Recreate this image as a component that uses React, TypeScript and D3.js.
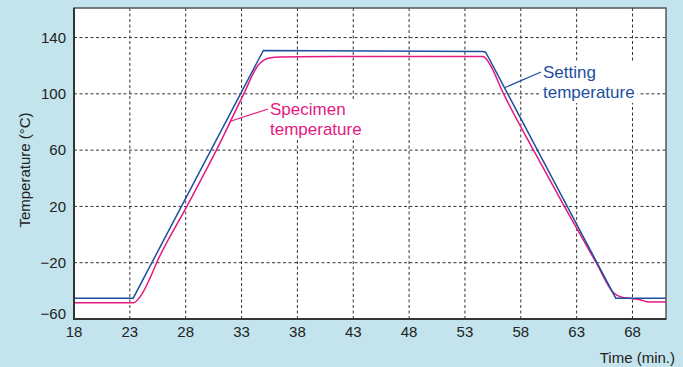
import React, { useEffect, useRef } from 'react'
import * as d3 from 'd3'

const timeTicks = [18, 23, 28, 33, 38, 43, 48, 53, 58, 63, 68]
const tempTicks = [-60, -20, 20, 60, 100, 140]

const settingTime = [18, 23.3, 34.95, 54.6, 54.85, 55.1, 66.5, 71]
const settingTemp = [-45.2, -45.2, 130.8, 130.1, 129.6, 126, -45.2, -45.2]

const specimenTime = [18, 23.35, 24.1, 24.8, 25.4, 28.1, 30.75, 33.2, 34.5, 35.0, 35.5, 36.5, 38.2, 45, 54.6, 54.9, 55.3, 56.4, 59.1, 61.9, 64.75, 66.3, 67.1, 68.6, 69.5, 71]
const specimenTemp = [-48.4, -48.4, -42, -31, -20, 20, 60, 100, 120.5, 124, 125.5, 126.2, 126.4, 126.5, 126.5, 125, 120, 101, 60.5, 20, -20, -41.3, -44.7, -46.1, -48, -48]

const BLUE = '#1d4f9f'
const PINK = '#e5197f'

function App() {
    const ref = useRef<SVGSVGElement>(null)

    useEffect(() => {
        document.body.style.margin = '0'
        const w = 683, h = 367
        const left = 74, top = 8, right = 666, bottom = 319

        const x = d3.scaleLinear().domain([18, 71]).range([left, right])
        const y = d3.scaleLinear().domain([-60, 161]).range([bottom, top])

        const svg = d3.select(ref.current)
        svg.selectAll('*').remove()
        svg.attr('width', w).attr('height', h)
            .style('font-family', '"Liberation Sans", Arial, sans-serif')

        svg.append('rect').attr('width', w).attr('height', h).attr('fill', '#c3e4ec')
        svg.append('rect')
            .attr('x', left).attr('y', top)
            .attr('width', right - left).attr('height', bottom - top)
            .attr('fill', '#fff')

        // grid
        const grid = svg.append('g')
            .attr('stroke', '#333').attr('stroke-width', 1).attr('stroke-dasharray', '3,2.5')
        grid.selectAll('.vx')
            .data(timeTicks.filter(t => t > 18))
            .enter().append('line')
            .attr('x1', d => x(d)).attr('x2', d => x(d))
            .attr('y1', top).attr('y2', bottom)
        grid.selectAll('.hy')
            .data(tempTicks.filter(t => t > -60))
            .enter().append('line')
            .attr('y1', d => y(d)).attr('y2', d => y(d))
            .attr('x1', left).attr('x2', right)

        // series
        const line = d3.line<[number, number]>()
            .x(d => x(d[0])).y(d => y(d[1]))
        const spec = specimenTime.map((t, i) => [t, specimenTemp[i]] as [number, number])
        const sett = settingTime.map((t, i) => [t, settingTemp[i]] as [number, number])

        svg.append('path')
            .attr('d', line.curve(d3.curveMonotoneX)(spec))
            .attr('fill', 'none').attr('stroke', PINK).attr('stroke-width', 1.5)
        svg.append('path')
            .attr('d', line.curve(d3.curveLinear)(sett))
            .attr('fill', 'none').attr('stroke', BLUE).attr('stroke-width', 1.5)

        // labels with white boxes
        const addLabel = function(lines: string[], tx: number, ty: number, color: string, from: [number, number]) {
            const g = svg.append('g')
            const box = g.append('rect').attr('fill', '#fff')
            const text = g.append('text')
                .attr('font-size', '17px').attr('fill', color)
            lines.forEach((s, i) => {
                text.append('tspan').attr('x', tx).attr('y', ty + i * 20).text(s)
            })
            const bb = (text.node() as SVGTextElement).getBBox()
            box.attr('x', bb.x - 3).attr('y', bb.y - 1)
                .attr('width', bb.width + 6).attr('height', bb.height + 2)
            svg.append('line')
                .attr('x1', x(from[0])).attr('y1', y(from[1]))
                .attr('x2', bb.x - 2).attr('y2', ty - 6)
                .attr('stroke', color).attr('stroke-width', 1.2)
        }
        addLabel(['Specimen', 'temperature'], 270, 115, PINK, [32.0, 80.5])
        addLabel(['Setting', 'temperature'], 543, 78, BLUE, [56.6, 104.5])

        // frame
        svg.append('rect')
            .attr('x', left).attr('y', top)
            .attr('width', right - left).attr('height', bottom - top)
            .attr('fill', 'none').attr('stroke', '#555').attr('stroke-width', 1.5)
        svg.append('line').attr('x1', left).attr('x2', left).attr('y1', top).attr('y2', bottom + 1)
            .attr('stroke', '#333').attr('stroke-width', 2)
        svg.append('line').attr('x1', left).attr('x2', right).attr('y1', bottom).attr('y2', bottom)
            .attr('stroke', '#333').attr('stroke-width', 2)

        // tick labels
        svg.selectAll('.xt')
            .data(timeTicks)
            .enter().append('text')
            .attr('x', d => x(d)).attr('y', 337)
            .attr('text-anchor', 'middle').attr('font-size', '15px').attr('fill', '#222')
            .text(d => d)
        svg.selectAll('.yt')
            .data(tempTicks)
            .enter().append('text')
            .attr('x', left - 8).attr('y', d => Math.min(y(d), bottom - 5))
            .attr('dy', '0.35em')
            .attr('text-anchor', 'end').attr('font-size', '15px').attr('fill', '#222')
            .text(d => d < 0 ? '\u2212' + Math.abs(d) : String(d))

        svg.append('text')
            .attr('x', 675).attr('y', 363)
            .attr('text-anchor', 'end').attr('font-size', '15px').attr('fill', '#222')
            .text('Time (min.)')
        svg.append('text')
            .attr('transform', 'translate(30,170) rotate(-90)')
            .attr('text-anchor', 'middle').attr('font-size', '15px').attr('fill', '#222')
            .text('Temperature (°C)')
    }, [])

    return <svg ref={ref} style={{ display: 'block' }}></svg>
}

export default App
